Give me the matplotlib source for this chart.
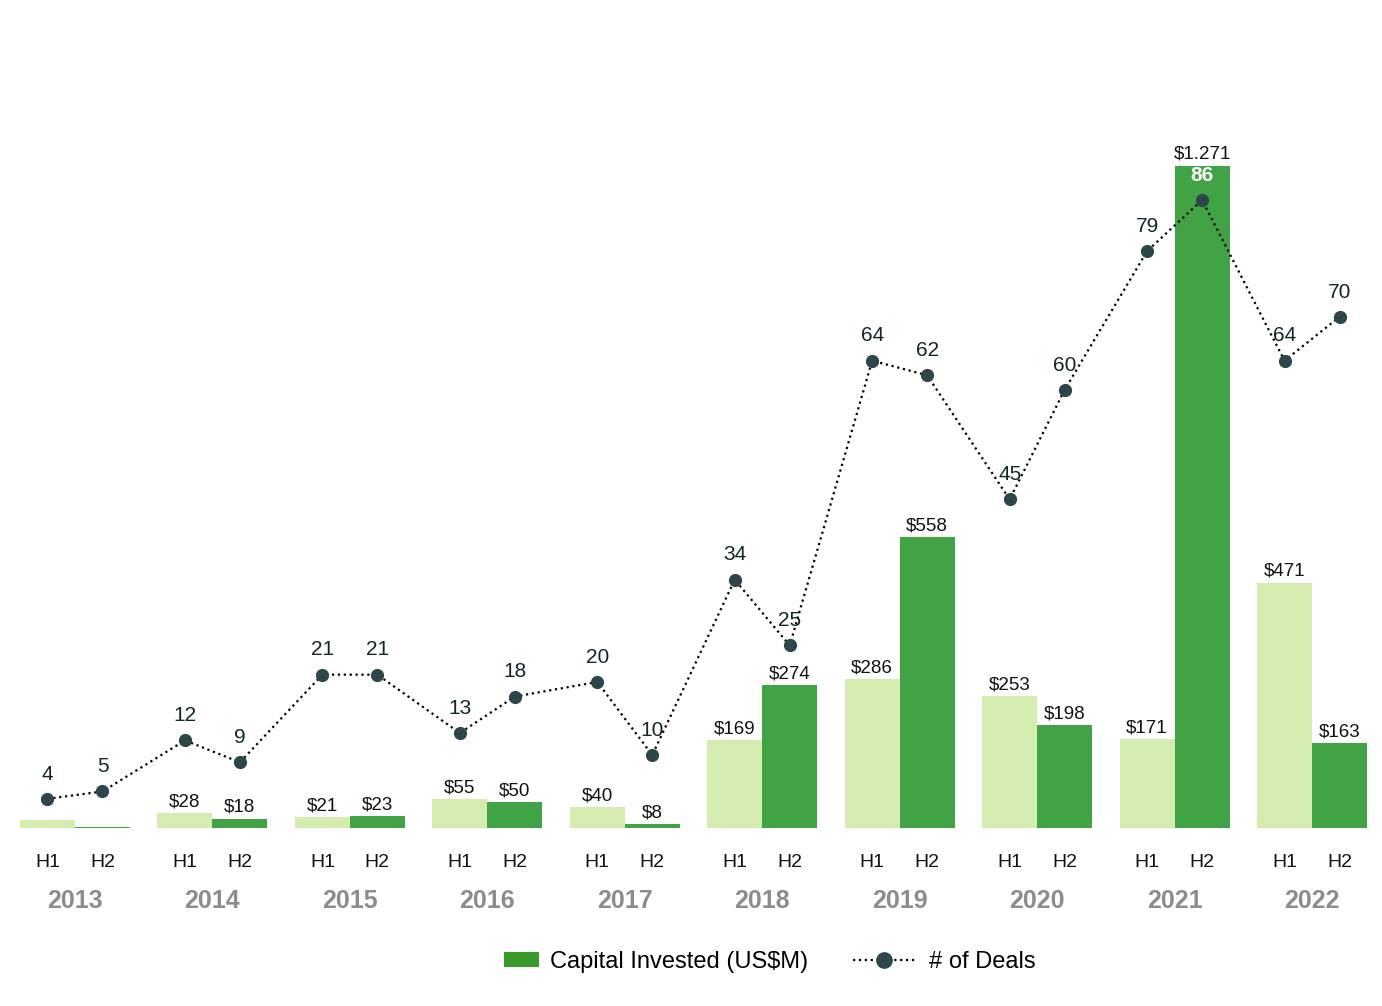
import matplotlib
matplotlib.use("Agg")
import matplotlib.pyplot as plt
import matplotlib.transforms as mtransforms
from matplotlib.lines import Line2D
from matplotlib.patches import Patch, Rectangle
from matplotlib.legend_handler import HandlerPatch
import numpy as np

plt.rcParams['font.family'] = ['Liberation Sans', 'DejaVu Sans']

years = ['2013', '2014', '2015', '2016', '2017', '2018', '2019', '2020', '2021', '2022']
halves = ['H1', 'H2']

# capital invested (US$M) per half year
capital_h1 = [15, 28, 21, 55, 40, 169, 286, 253, 171, 471]
capital_h2 = [2, 18, 23, 50, 8, 274, 558, 198, 1271, 163]
capital_h1_labels = ['', '$28', '$21', '$55', '$40', '$169', '$286', '$253', '$171', '$471']
capital_h2_labels = ['', '$18', '$23', '$50', '$8', '$274', '$558', '$198', '$1.271', '$163']

# number of deals per half year
deals_h1 = [4, 12, 21, 13, 20, 34, 64, 45, 79, 64]
deals_h2 = [5, 9, 21, 18, 10, 25, 62, 60, 86, 70]

light_green = '#d5ecb0'
dark_green = '#41a345'
dot_color = '#2e4549'

fig = plt.figure(figsize=(13.82, 10.06), dpi=100)
ax = fig.add_axes([20 / 1382, 1 - 828 / 1006, 1347 / 1382, 728 / 1006])
ax2 = ax.twinx()

idx = np.arange(len(years))
w = 0.4
x1 = idx - w / 2
x2 = idx + w / 2

b1 = ax.bar(x1, capital_h1, width=w, color=light_green)
b2 = ax.bar(x2, capital_h2, width=w, color=dark_green)
ax.bar_label(b1, labels=capital_h1_labels, padding=2, fontsize=13.5, color='#111111')
ax.bar_label(b2, labels=capital_h2_labels, padding=2, fontsize=13.5, color='#111111')

# deals line, interleaved H1/H2
xd = np.ravel(np.column_stack([x1, x2]))
yd = np.ravel(np.column_stack([deals_h1, deals_h2]))
ax2.plot(xd, yd, linestyle=':', color='black', linewidth=1.6,
         marker='o', markersize=8.5, markerfacecolor=dot_color, markeredgecolor=dot_color)
for xv, yv in zip(xd, yd):
    top = yv == max(yd)
    ax2.annotate(str(yv), (xv, yv), xytext=(0, 11), textcoords='offset points',
                 ha='center', va='bottom', fontsize=15,
                 color='white' if top else '#13262a',
                 fontweight='bold' if top else 'normal')

ax.set_xlim(-0.4, len(years) - 0.6)
ax.set_ylim(0, 1397)
ax2.set_ylim(0, 99.7)

ticks = np.ravel(np.column_stack([x1, x2]))
ax.set_xticks(ticks)
ax.set_xticklabels(halves * len(years), fontsize=14, color='#111111')
ax.tick_params(axis='x', length=0, pad=19)
ax.set_yticks([])
ax2.set_yticks([])
for a in (ax, ax2):
    for s in a.spines.values():
        s.set_visible(False)

trans = mtransforms.blended_transform_factory(ax.transData, ax.transAxes)
for i, yr in enumerate(years):
    ax.text(i, -73 / 728, yr, transform=trans, ha='center', va='center',
            fontsize=18, fontweight='bold', color='#8c8c8c')


class SmallPatch(HandlerPatch):
    def create_artists(self, legend, orig_handle, xdescent, ydescent, width, height, fontsize, trans):
        pw = width * 0.56
        r = Rectangle((width - pw - xdescent + 2, -ydescent + height * 0.05), pw, height * 0.9,
                      facecolor=orig_handle.get_facecolor(), transform=trans)
        return [r]


handles = [Patch(facecolor='#3a9a2a'),
           Line2D([], [], linestyle=':', color='black', linewidth=1.6, marker='o',
                  markersize=11, markerfacecolor=dot_color, markeredgecolor=dot_color)]
fig.legend(handles, ['Capital Invested (US$M)', '# of Deals'], loc='center',
           bbox_to_anchor=(755 / 1382, 1 - 962 / 1006), ncol=2, frameon=False,
           fontsize=17, handlelength=2.6, columnspacing=1.9, handletextpad=0.6,
           handler_map={Patch: SmallPatch()})

fig.savefig('out.png', dpi=100)
